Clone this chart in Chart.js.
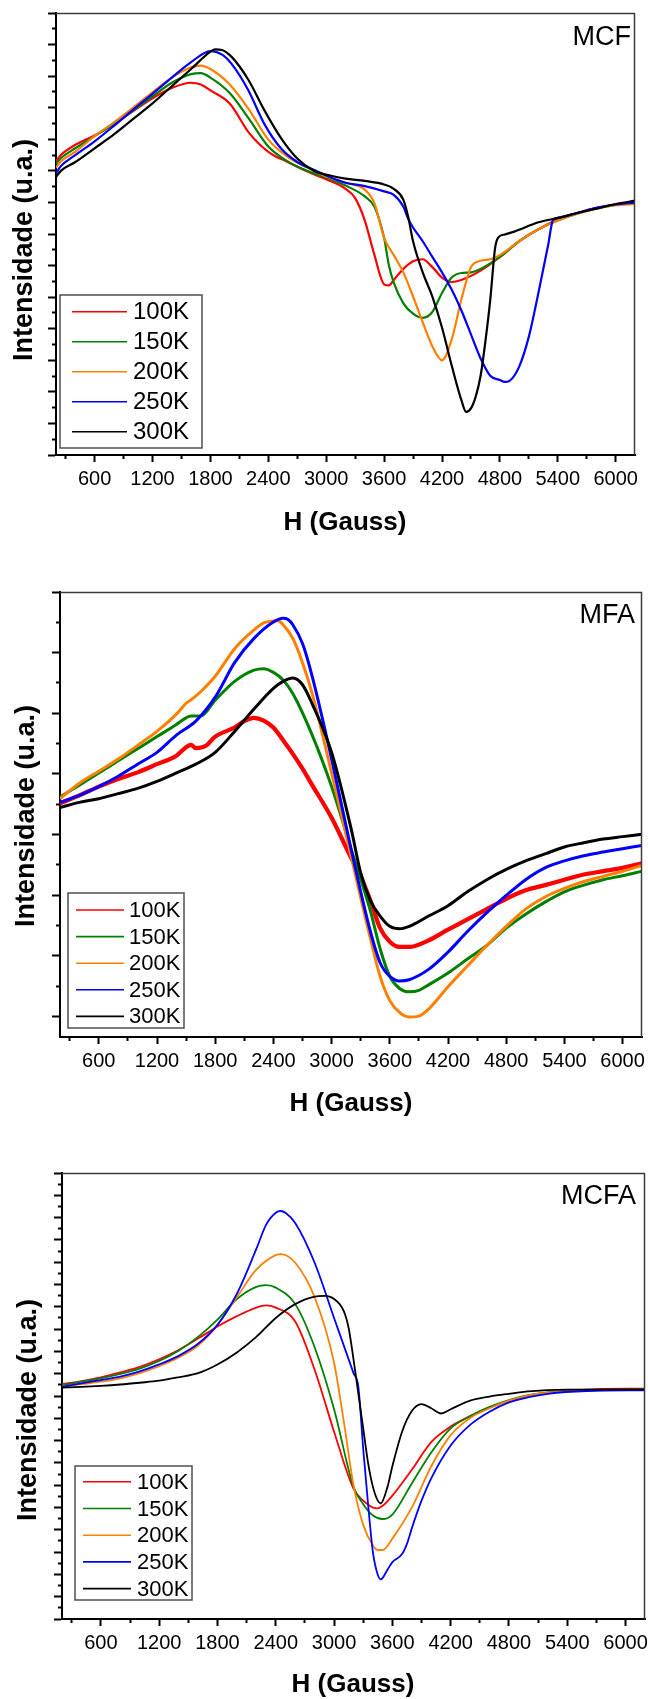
<!DOCTYPE html>
<html>
<head>
<meta charset="utf-8">
<script src="https://cdn.jsdelivr.net/npm/chart.js@4.4.1/dist/chart.umd.min.js"></script>
<style>
html,body{margin:0;padding:0;background:#fff;}
body{width:648px;height:1699px;position:relative;overflow:hidden;}
canvas{position:absolute;left:0;}
</style>
</head>
<body>
<canvas id="c1" width="648" height="566" style="top:0px;width:648px;height:566px"></canvas>
<canvas id="c2" width="648" height="567" style="top:566px;width:648px;height:567px"></canvas>
<canvas id="c3" width="648" height="566" style="top:1133px;width:648px;height:566px"></canvas>
<script>
// ---------- labels ----------
const seriesLabels = ['100K', '150K', '200K', '250K', '300K'];
const seriesColors = ['#ff0000', '#008000', '#ff8000', '#0000ff', '#000000'];
const panelNames = ['MCF', 'MFA', 'MCFA'];
const xTitle = 'H (Gauss)';
const yTitle = 'Intensidade (u.a.)';
const xMajorTicks = [600, 1200, 1800, 2400, 3000, 3600, 4200, 4800, 5400, 6000];
const xMinorTicks = [300, 900, 1500, 2100, 2700, 3300, 3900, 4500, 5100, 5700];
const xMin = 200, xMax = 6200;

// ---------- MCF (panel 1) ----------
const mcfH100 = [200,250,400,600,800,1000,1200,1400,1600,1700,1800,2000,2200,2400,2600,2800,3000,3200,3300,3400,3500,3600,3650,3700,3800,3900,4000,4100,4200,4300,4400,4600,4800,5000,5200,5400,5600,5800,6000,6200];
const mcfI100 = [18.6,19.0,19.65,20.24,20.96,21.79,22.60,23.25,23.58,23.47,23.10,22.27,20.41,19.21,18.56,17.97,17.47,16.86,16.27,14.85,12.66,10.81,10.74,11.09,11.79,12.27,12.40,11.90,11.24,10.96,11.09,11.68,12.55,13.54,14.30,14.91,15.33,15.66,15.87,16.00];
const mcfH150 = [200,250,400,600,800,1000,1200,1400,1600,1700,1800,2000,2200,2400,2600,2800,3000,3200,3400,3500,3600,3650,3700,3800,3900,4000,4100,4200,4300,4400,4500,4600,4800,5000,5200,5400,5600,5800,6000,6200];
const mcfI150 = [18.45,18.8,19.43,20.20,20.96,21.83,22.71,23.58,24.13,24.19,23.91,22.93,21.29,19.54,18.60,18.01,17.58,17.07,16.38,15.72,13.76,12.0,10.92,9.61,8.95,8.69,9.06,10.26,11.24,11.53,11.57,11.79,12.55,13.54,14.30,14.85,15.28,15.62,15.85,15.98];
const mcfH200 = [200,250,400,600,800,1000,1200,1400,1600,1700,1800,2000,2200,2400,2600,2800,3000,3200,3400,3500,3600,3700,3800,3900,4000,4100,4200,4300,4400,4500,4600,4700,4800,5000,5200,5400,5600,5800,6000,6200];
const mcfI200 = [18.2,18.6,19.21,20.20,21.07,22.01,22.97,23.91,24.56,24.67,24.45,23.47,21.88,19.98,18.89,18.23,17.64,17.25,16.81,15.94,13.76,12.66,11.57,10.04,8.41,6.88,6.00,7.31,9.83,11.90,12.30,12.40,12.66,13.54,14.30,14.85,15.28,15.60,15.82,15.90];
const mcfH250 = [200,250,400,600,800,1000,1200,1400,1600,1800,1930,2020,2190,2360,2530,2700,2870,3050,3200,3400,3600,3700,3800,3850,3900,4000,4100,4200,4300,4400,4500,4600,4700,4800,4850,4900,5000,5100,5200,5300,5350,5400,5600,5800,6000,6200];
const mcfI250 = [17.85,18.3,19.00,19.87,20.85,21.88,22.88,23.91,24.89,25.59,25.33,24.78,23.14,20.96,19.43,18.56,18.07,17.58,17.25,17.03,16.70,16.48,15.72,14.96,14.41,13.54,12.55,11.57,10.48,9.17,7.64,6.11,5.02,4.75,4.63,4.70,5.60,7.50,10.30,13.30,14.89,15.02,15.33,15.66,15.87,15.98];
const mcfH300 = [200,250,400,600,800,1000,1200,1400,1600,1800,1850,1920,2020,2190,2360,2530,2700,2870,3050,3200,3400,3600,3700,3800,3850,3900,4000,4100,4200,4300,4400,4450,4500,4550,4600,4650,4700,4750,4780,4850,4950,5200,5400,5600,5800,6000,6200];
const mcfI300 = [17.6,18.0,18.56,19.43,20.31,21.29,22.27,23.36,24.45,25.55,25.70,25.66,25.22,23.80,21.83,20.09,18.78,18.01,17.69,17.51,17.36,17.14,16.86,16.16,15.07,13.54,11.57,10.04,8.08,5.68,3.49,2.73,2.95,3.71,5.02,7.21,9.83,13.10,13.76,13.97,14.15,14.74,15.02,15.33,15.60,15.90,16.11];

// ---------- MFA (panel 2) ----------
const mfaH100 = [200,400,600,800,1000,1200,1400,1500,1550,1600,1700,1800,2000,2100,2200,2300,2400,2500,2600,2700,2800,3000,3200,3300,3400,3500,3600,3700,3800,4000,4200,4400,4600,4800,5000,5200,5400,5600,5800,6000,6200];
const mfaI100 = [7.03,7.29,7.58,7.83,8.05,8.32,8.60,8.88,8.96,8.85,8.92,9.23,9.53,9.74,9.85,9.76,9.53,9.11,8.66,8.17,7.63,6.55,5.24,4.62,3.82,2.91,2.46,2.29,2.29,2.51,2.86,3.20,3.54,3.88,4.16,4.33,4.51,4.68,4.79,4.90,5.05];
const mfaH150 = [200,400,600,800,1000,1200,1400,1500,1550,1650,1800,2000,2200,2300,2400,2500,2600,2800,3000,3200,3400,3500,3600,3700,3800,3900,4000,4200,4400,4600,4800,5000,5200,5400,5600,5800,6000,6200];
const mfaI150 = [7.24,7.63,8.03,8.43,8.83,9.23,9.63,9.85,9.91,9.91,10.43,11.05,11.42,11.47,11.35,11.10,10.65,9.28,7.58,5.53,3.48,2.23,1.32,0.92,0.81,0.86,1.04,1.43,1.89,2.34,2.91,3.37,3.77,4.11,4.33,4.51,4.64,4.79];
const mfaH200 = [200,400,600,800,1000,1200,1400,1500,1550,1650,1800,2000,2200,2300,2400,2450,2500,2600,2700,2800,3000,3200,3400,3500,3600,3700,3800,3900,4000,4200,4400,4600,4800,5000,5200,5400,5600,5800,6000,6200];
const mfaI200 = [7.18,7.69,8.09,8.49,8.94,9.40,9.97,10.33,10.44,10.71,11.22,12.13,12.75,12.98,13.04,13.05,12.92,12.47,11.67,10.65,8.03,5.30,2.57,1.32,0.52,0.13,-0.02,0.01,0.24,0.98,1.66,2.34,2.97,3.54,3.94,4.22,4.45,4.62,4.79,4.98];
const mfaH250 = [200,400,600,800,1000,1200,1400,1600,1800,2000,2200,2400,2500,2550,2600,2700,2800,3000,3200,3400,3500,3600,3700,3800,4000,4200,4400,4600,4800,5000,5200,5400,5600,5800,6000,6200];
const mfaI250 = [7.06,7.29,7.58,7.92,8.32,8.71,9.28,9.74,10.53,11.67,12.47,13.01,13.13,13.09,12.92,12.30,11.22,8.49,5.53,2.80,1.77,1.32,1.17,1.21,1.55,2.12,2.80,3.42,3.99,4.51,4.90,5.13,5.30,5.42,5.53,5.64];
const mfaH300 = [200,400,600,800,1000,1200,1400,1600,1800,2000,2200,2400,2500,2600,2700,2800,3000,3200,3300,3400,3500,3600,3700,3800,4000,4200,4400,4600,4800,5000,5200,5400,5600,5800,6000,6200];
const mfaI300 = [6.89,7.06,7.18,7.35,7.52,7.75,8.03,8.32,8.71,9.40,10.14,10.82,11.05,11.16,10.94,10.31,8.71,6.21,4.73,3.82,3.31,2.97,2.89,2.97,3.31,3.65,4.11,4.51,4.85,5.13,5.36,5.59,5.73,5.85,5.93,6.01];

// ---------- MCFA (panel 3) ----------
const mcfaH100 = [200,400,600,800,1000,1200,1400,1600,1800,2000,2200,2300,2400,2600,2800,3000,3200,3300,3400,3450,3500,3600,3800,4000,4200,4400,4600,4800,5000,5200,5400,5600,6000,6200];
const mcfaI100 = [21.06,21.34,21.68,22.12,22.61,23.29,24.13,25.15,26.23,27.16,27.93,28.12,27.93,26.69,22.36,16.80,11.69,10.61,9.99,9.93,10.15,11.07,13.39,15.87,17.26,18.19,18.96,19.58,20.04,20.29,20.45,20.57,20.66,20.66];
const mcfaH150 = [200,400,600,800,1000,1200,1400,1600,1800,2000,2200,2300,2400,2600,2800,3000,3200,3300,3400,3500,3600,3800,4000,4200,4400,4600,4800,5000,5200,5600,6200];
const mcfaI150 = [20.97,21.28,21.59,21.99,22.46,23.14,24.06,25.30,26.85,28.70,29.79,29.94,29.72,28.24,24.37,18.81,11.85,10.30,9.28,8.97,9.37,12.16,14.94,17.10,18.19,19.02,19.64,20.07,20.32,20.51,20.60];
const mcfaH200 = [200,400,600,800,1000,1200,1400,1600,1800,2000,2200,2400,2450,2600,2800,3000,3100,3200,3300,3400,3450,3500,3600,3800,4000,4200,4400,4600,4800,5000,5200,5600,6200];
const mcfaI200 = [20.82,21.06,21.28,21.59,22.05,22.67,23.45,24.53,26.38,28.86,31.33,32.63,32.72,31.95,28.86,22.98,17.72,12.00,8.44,6.59,6.19,6.19,7.21,9.99,13.70,16.49,18.03,18.90,19.58,20.04,20.29,20.51,20.60];
const mcfaH250 = [200,400,600,800,1000,1200,1400,1600,1800,2000,2200,2300,2400,2450,2500,2600,2800,3000,3200,3250,3300,3350,3400,3450,3480,3550,3600,3700,3750,3800,3900,4000,4200,4400,4600,4800,5000,5200,5600,6200];
const mcfaI250 = [20.82,21.13,21.43,21.74,22.21,22.83,23.60,24.68,26.38,29.17,33.19,35.35,36.44,36.59,36.44,35.51,31.95,27.00,22.05,20.82,15.25,10.30,5.97,3.96,3.56,4.42,5.10,5.82,6.74,8.13,10.61,12.62,15.56,17.41,18.59,19.42,19.89,20.20,20.45,20.51];
const mcfaH300 = [200,400,600,800,1000,1200,1400,1600,1800,2000,2200,2400,2600,2800,2900,3000,3100,3150,3200,3250,3300,3350,3400,3450,3480,3550,3600,3700,3800,3900,4000,4100,4200,4400,4600,4800,5000,5400,6200];
const mcfaI300 = [20.75,20.82,20.91,21.03,21.19,21.37,21.68,22.05,22.83,23.91,25.30,27.00,28.24,28.92,28.98,28.70,27.62,26.10,23.29,20.20,17.10,14.01,11.85,10.61,10.36,11.85,13.70,16.80,18.65,19.27,18.90,18.43,18.81,19.58,19.95,20.20,20.41,20.57,20.60];

// ---------- helpers ----------
const FONT = '"Liberation Sans", Arial, Helvetica, sans-serif';
const X_BOX = 60;
function pts(h, v) { return h.map((x, k) => ({ x: x, y: v[k] })); }
function tickList(from, to, step) { const r = []; for (let v = from; v <= to + 1e-9; v += step) r.push(v); return r; }
const zeroW = s => { s.width = 0; s.paddingLeft = 0; s.paddingRight = 0; s.paddingTop = 0; s.paddingBottom = 0; };
const zeroH = s => { s.height = 0; s.paddingLeft = 0; s.paddingRight = 0; s.paddingTop = 0; s.paddingBottom = 0; };
const labH = s => { s.height = X_BOX; s.paddingLeft = 0; s.paddingRight = 0; s.paddingTop = 0; s.paddingBottom = 0; };

const decoPlugin = {
  id: 'deco',
  afterDraw(chart, args, o) {
    const ctx = chart.ctx, a = chart.chartArea;
    ctx.save();
    ctx.strokeStyle = '#3c3c3c';
    ctx.lineWidth = 1.5;
    ctx.beginPath();
    ctx.moveTo(a.left, a.top + 0.5);
    ctx.lineTo(a.right - 0.5, a.top + 0.5);
    ctx.lineTo(a.right - 0.5, a.bottom);
    ctx.stroke();
    ctx.fillStyle = '#000';
    ctx.font = '27px ' + FONT;
    ctx.textAlign = 'right';
    ctx.textBaseline = 'alphabetic';
    ctx.fillText(o.name, o.nameX, o.nameY);
    ctx.font = 'bold 26px ' + FONT;
    ctx.textAlign = 'center';
    ctx.fillText(xTitle, o.xtX, o.xtY);
    ctx.save();
    ctx.font = 'bold 27px ' + FONT;
    ctx.translate(o.ytX, o.ytY);
    ctx.rotate(-Math.PI / 2);
    ctx.fillText(yTitle, 0, 0);
    ctx.restore();
    const L = o.legend;
    ctx.fillStyle = '#fff';
    ctx.fillRect(L.l, L.t, L.r - L.l, L.b - L.t);
    ctx.strokeStyle = '#505050';
    ctx.lineWidth = 1.5;
    ctx.strokeRect(L.l, L.t, L.r - L.l, L.b - L.t);
    ctx.font = L.fs + 'px ' + FONT;
    ctx.textAlign = 'left';
    ctx.textBaseline = 'middle';
    chart.data.datasets.forEach((d, i) => {
      const y = L.y0 + i * L.dy;
      ctx.strokeStyle = d.borderColor;
      ctx.lineWidth = 1.6;
      ctx.beginPath();
      ctx.moveTo(L.lx1, y);
      ctx.lineTo(L.lx2, y);
      ctx.stroke();
      ctx.fillStyle = '#000';
      ctx.fillText(d.label, L.tx, y + 1);
    });
    ctx.restore();
  }
};

function makePanel(id, cfg) {
  const datasets = cfg.series.map((s, i) => ({
    label: seriesLabels[i],
    data: pts(s[0], s[1]),
    borderColor: seriesColors[i],
    backgroundColor: seriesColors[i],
    borderWidth: cfg.lw[i],
    pointRadius: 0,
    fill: false,
    cubicInterpolationMode: 'monotone',
    order: 4 - i
  }));
  const yMaj = tickList(0, cfg.yTop, 2);
  const yMin = tickList(1, cfg.yTop - 1, 2);
  new Chart(document.getElementById(id), {
    type: 'line',
    data: { datasets: datasets },
    options: {
      responsive: false,
      animation: false,
      devicePixelRatio: 1,
      layout: { padding: cfg.pad },
      plugins: { legend: { display: false }, tooltip: { enabled: false }, title: { display: false }, deco: cfg.deco },
      scales: {
        x: {
          type: 'linear', axis: 'x', position: 'bottom', weight: 1, min: xMin, max: xMax,
          afterBuildTicks: s => { s.ticks = xMajorTicks.map(v => ({ value: v })); },
          afterFit: labH,
          grid: { drawOnChartArea: false, drawTicks: true, tickLength: 7, tickWidth: 2, tickColor: '#000' },
          border: { display: true, color: '#000', width: 2 },
          ticks: { color: '#000', font: { family: FONT, size: 20 }, padding: 5, maxRotation: 0, minRotation: 0, autoSkip: false, callback: v => String(v) }
        },
        xm: {
          type: 'linear', axis: 'x', position: 'bottom', weight: 0, min: xMin, max: xMax,
          afterBuildTicks: s => { s.ticks = xMinorTicks.map(v => ({ value: v })); },
          afterFit: zeroH,
          grid: { drawOnChartArea: false, drawTicks: true, tickLength: 4, tickWidth: 2, tickColor: '#000' },
          border: { display: false },
          ticks: { display: false }
        },
        y: {
          type: 'linear', axis: 'y', position: 'left', min: cfg.yBottom, max: cfg.yTop,
          afterBuildTicks: s => { s.ticks = yMaj.map(v => ({ value: v })); },
          afterFit: zeroW,
          grid: { drawOnChartArea: false, drawTicks: true, tickLength: 8, tickWidth: 2, tickColor: '#000' },
          border: { display: true, color: '#000', width: 2 },
          ticks: { display: false }
        },
        ym: {
          type: 'linear', axis: 'y', position: 'left', min: cfg.yBottom, max: cfg.yTop,
          afterBuildTicks: s => { s.ticks = yMin.map(v => ({ value: v })); },
          afterFit: zeroW,
          grid: { drawOnChartArea: false, drawTicks: true, tickLength: 4, tickWidth: 2, tickColor: '#000' },
          border: { display: false },
          ticks: { display: false }
        }
      }
    },
    plugins: [decoPlugin]
  });
}

makePanel('c1', {
  series: [[mcfH100, mcfI100], [mcfH150, mcfI150], [mcfH200, mcfI200], [mcfH250, mcfI250], [mcfH300, mcfI300]],
  lw: [2.2, 2.2, 2.2, 2.2, 2.2], yBottom: 0, yTop: 28,
  pad: { left: 56, top: 13, right: 13, bottom: 111 - X_BOX },
  deco: { name: panelNames[0], nameX: 631, nameY: 45, xtX: 345, xtY: 530, ytX: 32, ytY: 250,
    legend: { l: 60, t: 295, r: 202, b: 448, y0: 311.7, dy: 30, lx1: 72, lx2: 127, tx: 133, fs: 24 } }
});
makePanel('c2', {
  series: [[mfaH100, mfaI100], [mfaH150, mfaI150], [mfaH200, mfaI200], [mfaH250, mfaI250], [mfaH300, mfaI300]],
  lw: [4.2, 3, 3, 3, 3], yBottom: -0.68, yTop: 14,
  pad: { left: 60, top: 26, right: 6, bottom: 96 - X_BOX },
  deco: { name: panelNames[1], nameX: 635, nameY: 57, xtX: 351, xtY: 545, ytX: 34, ytY: 250,
    legend: { l: 68, t: 327, r: 184, b: 462, y0: 344, dy: 26.6, lx1: 76, lx2: 124, tx: 129, fs: 22 } }
});
makePanel('c3', {
  series: [[mcfaH100, mcfaI100], [mcfaH150, mcfaI150], [mcfaH200, mcfaI200], [mcfaH250, mcfaI250], [mcfaH300, mcfaI300]],
  lw: [1.8, 1.8, 1.8, 1.8, 1.8], yBottom: 0, yTop: 40,
  pad: { left: 62, top: 40, right: 3, bottom: 80 - X_BOX },
  deco: { name: panelNames[2], nameX: 636, nameY: 71, xtX: 353, xtY: 559, ytX: 36, ytY: 277,
    legend: { l: 75, t: 333, r: 192, b: 467, y0: 348.8, dy: 26.7, lx1: 83, lx2: 131, tx: 137, fs: 22 } }
});
</script>
</body>
</html>
